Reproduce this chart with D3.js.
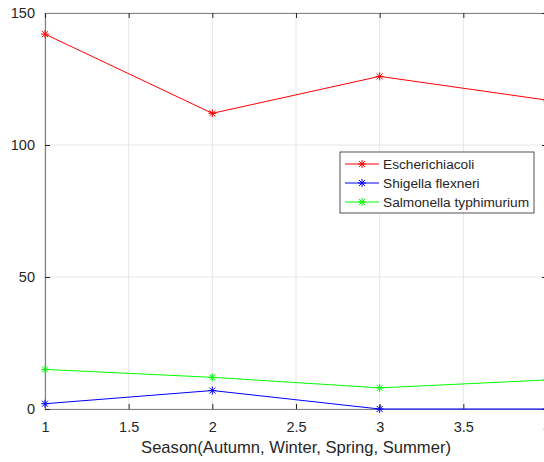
<!DOCTYPE html>
<html>
<head>
<meta charset="utf-8">
<script src="https://cdn.jsdelivr.net/npm/d3@7"></script>
<style>
  body { margin: 0; background: #fff; }
  text { font-family: "Liberation Sans", Arial, sans-serif; fill: #262626; }
</style>
</head>
<body>
<div id="chart"></div>
<script>
const seasons = [1, 2, 3, 4];
const ecoli = [142, 112, 126, 117];
const shigella = [2, 7, 0, 0];
const salmonella = [15, 12, 8, 11];
const seriesNames = ["Escherichiacoli", "Shigella flexneri", "Salmonella typhimurium"];
const seriesColors = ["#ff0000", "#0000ff", "#00ff00"];
const xTicks = [1, 1.5, 2, 2.5, 3, 3.5, 4];
const yTicks = [0, 50, 100, 150];

const width = 544, height = 462;
const plotLeft = 45, plotRight = 547, plotTop = 13, plotBottom = 409;

const svg = d3.select("#chart").append("svg")
    .attr("width", width)
    .attr("height", height);

const x = d3.scaleLinear().domain([1, 4]).range([plotLeft, plotRight]);
const y = d3.scaleLinear().domain([0, 150]).range([plotBottom, plotTop]);

// grid
svg.append("g").selectAll("line")
    .data(xTicks).enter().append("line")
    .attr("x1", d => x(d)).attr("x2", d => x(d))
    .attr("y1", plotTop).attr("y2", plotBottom)
    .attr("stroke", "#e6e6e6");
svg.append("g").selectAll("line")
    .data(yTicks).enter().append("line")
    .attr("x1", plotLeft).attr("x2", plotRight)
    .attr("y1", d => y(d)).attr("y2", d => y(d))
    .attr("stroke", "#e6e6e6");

// axes (box)
const fmt = d => d3.format("")(d);
svg.append("g").attr("transform", `translate(0,${plotBottom})`)
    .call(d3.axisBottom(x).tickValues(xTicks).tickSize(-5).tickPadding(13).tickFormat(fmt));
svg.append("g").attr("transform", `translate(${plotLeft},0)`)
    .call(d3.axisLeft(y).tickValues(yTicks).tickSize(-5).tickPadding(10));
svg.append("g").attr("transform", `translate(0,${plotTop})`)
    .call(d3.axisTop(x).tickValues(xTicks).tickSize(-5).tickFormat(""));
svg.append("g").attr("transform", `translate(${plotRight},0)`)
    .call(d3.axisRight(y).tickValues(yTicks).tickSize(-5).tickFormat(""));

svg.selectAll(".domain").attr("stroke", "#808080").attr("stroke-width", 1.2);
svg.selectAll(".tick line").attr("stroke", "#262626");
svg.selectAll(".tick text").attr("font-size", 14.5).attr("fill", "#262626");

svg.append("text")
    .attr("x", (plotLeft + plotRight) / 2)
    .attr("y", 453)
    .attr("text-anchor", "middle")
    .attr("font-size", 16.6)
    .text("Season(Autumn, Winter, Spring, Summer)");

// star marker
function star(g, cx, cy, color) {
  const r = 4;
  const p = g.append("g").attr("transform", `translate(${cx},${cy})`)
      .attr("stroke", color).attr("stroke-width", 1);
  p.append("line").attr("x1", -r).attr("x2", r);
  p.append("line").attr("y1", -r).attr("y2", r);
  p.append("line").attr("x1", -r * 0.75).attr("y1", -r * 0.75).attr("x2", r * 0.75).attr("y2", r * 0.75);
  p.append("line").attr("x1", -r * 0.75).attr("y1", r * 0.75).attr("x2", r * 0.75).attr("y2", -r * 0.75);
}

const line = d3.line().x((d, i) => x(seasons[i])).y(d => y(d));
const allSeries = [ecoli, shigella, salmonella];

[2, 1, 0].forEach(k => {
  const vals = allSeries[k];
  svg.append("path")
      .datum(vals)
      .attr("d", line)
      .attr("fill", "none")
      .attr("stroke", seriesColors[k])
      .attr("stroke-width", 1);
  const mg = svg.append("g");
  vals.forEach((v, i) => star(mg, x(seasons[i]), y(v), seriesColors[k]));
});

// legend
const lg = svg.append("g").attr("transform", "translate(340,152)");
lg.append("rect").attr("width", 194).attr("height", 61)
    .attr("fill", "#fff").attr("stroke", "#262626").attr("stroke-width", 0.8);
seriesNames.forEach((name, i) => {
  const ry = 12 + i * 19;
  lg.append("line").attr("x1", 5).attr("x2", 39).attr("y1", ry).attr("y2", ry)
      .attr("stroke", seriesColors[i]);
  star(lg, 22, ry, seriesColors[i]);
  lg.append("text").attr("x", 43).attr("y", ry + 5)
      .attr("font-size", 13.7).text(name);
});
</script>
</body>
</html>
